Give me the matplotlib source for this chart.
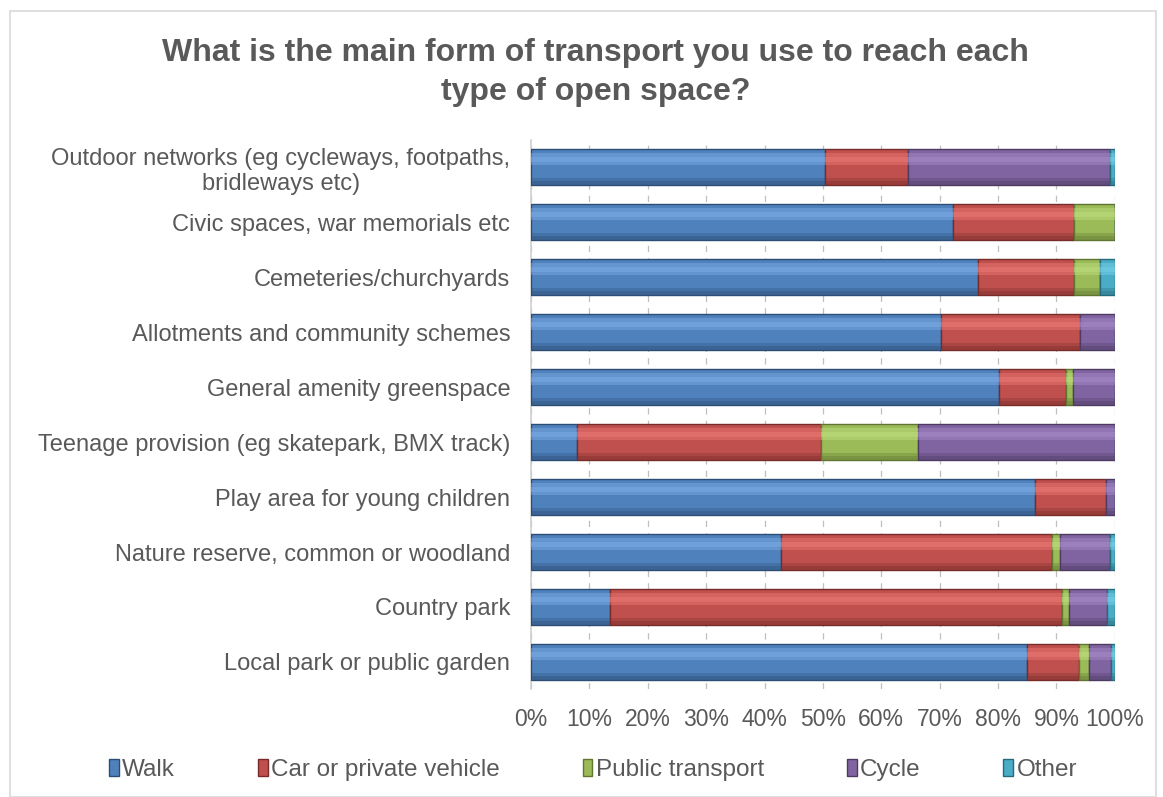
import numpy as np
import matplotlib.pyplot as plt
from matplotlib.patches import Rectangle

plt.rcParams['font.family'] = ['Liberation Sans', 'DejaVu Sans']

# Categories, bottom to top as drawn
categories = ["Local park or public garden",
              "Country park",
              "Nature reserve, common or woodland",
              "Play area for young children",
              "Teenage provision (eg skatepark, BMX track)",
              "General amenity greenspace",
              "Allotments and community schemes",
              "Cemeteries/churchyards",
              "Civic spaces, war memorials etc",
              "Outdoor networks (eg cycleways, footpaths,\nbridleways etc)"]

# Share of responses (%) per transport mode
walk    = [85.0, 13.5, 42.9, 86.4,  7.9, 80.1, 70.3, 76.5, 72.2, 50.3]
car     = [ 8.8, 77.4, 46.3, 12.1, 41.8, 11.6, 23.8, 16.5, 20.8, 14.3]
public  = [ 1.7,  1.3,  1.4,  0.0, 16.6,  1.2,  0.0,  4.5,  7.0,  0.0]
cycle   = [ 3.8,  6.5,  8.6,  1.5, 33.7,  7.1,  5.9,  0.0,  0.0, 34.6]
other   = [ 0.7,  1.3,  0.8,  0.0,  0.0,  0.0,  0.0,  2.5,  0.0,  0.8]

series = [walk, car, public, cycle, other]
labels = ["Walk", "Car or private vehicle", "Public transport", "Cycle", "Other"]
colors = ["#4F81BD", "#C0504D", "#9BBB59", "#8064A2", "#4BACC6"]
lights = ["#7EAEE6", "#EE7C79", "#C0E080", "#A98DCC", "#78D2EA"]
darks = ["#2C4D75", "#772C2A", "#5F7530", "#4D3B62", "#276A7C"]

fig = plt.figure(figsize=(11.63, 7.97), dpi=100)
ax = fig.add_axes([0.4566, 0.1349, 0.502, 0.690])

bar_h = 0.64
y = np.arange(len(categories))
left = np.zeros(len(categories))
for vals, lab, col, lt, dk in zip(series, labels, colors, lights, darks):
    vals = np.array(vals)
    ax.barh(y, vals, left=left, height=bar_h, color=col, edgecolor=dk,
            linewidth=1.0, label=lab, zorder=3)
    # rough bevel look: soft light band up top, darker band along the bottom
    ax.barh(y + 0.14, vals, left=left, height=0.22, color=lt, linewidth=0,
            alpha=0.45, zorder=4)
    ax.barh(y + 0.14, vals, left=left, height=0.09, color=lt, linewidth=0,
            alpha=0.45, zorder=4)
    ax.barh(y - 0.26, vals, left=left, height=0.12, color=dk, linewidth=0,
            alpha=0.3, zorder=4)
    ax.barh(y - 0.29, vals, left=left, height=0.06, color=dk, linewidth=0,
            alpha=0.35, zorder=4)
    left += vals

ax.set_xlim(0, 100)
ax.set_ylim(-0.5, len(categories) - 0.5)
ax.set_xticks(np.arange(0, 101, 10))
ax.set_xticklabels([f"{v}%" for v in range(0, 101, 10)], fontsize=16.5, color="#595959")
ax.set_yticks(y)
ax.set_yticklabels(categories, fontsize=17, color="#595959")
ax.tick_params(axis='x', length=0, pad=13)
ax.tick_params(axis='y', length=0, pad=15)
for lbl in ax.get_yticklabels():
    lbl.set_multialignment('center')

ax.grid(axis='x', color="#BFBFBF", linestyle=(0, (5, 5)), linewidth=0.9, zorder=0)
for s in ['top', 'right', 'bottom']:
    ax.spines[s].set_visible(False)
ax.spines['left'].set_color("#D0D0D0")
ax.spines['left'].set_linewidth(1.2)

fig.suptitle("What is the main form of transport you use to reach each\ntype of open space?",
             x=0.512, y=0.952, fontsize=23, fontweight='bold', color="#595959",
             linespacing=1.38)

handles, labs = ax.get_legend_handles_labels()
fig.legend(handles, labs, loc='center', bbox_to_anchor=(0.51, 0.034), ncol=5,
           frameon=False, fontsize=17.5, handlelength=0.4, handleheight=0.7,
           handletextpad=0.15, columnspacing=3.4, labelcolor="#595959")

# outer chart border
fig.patches.append(Rectangle((0.009, 0.0), 0.985, 0.986, transform=fig.transFigure,
                             fill=False, edgecolor="#D9D9D9", linewidth=1.2))

fig.savefig("out.png", dpi=100)
